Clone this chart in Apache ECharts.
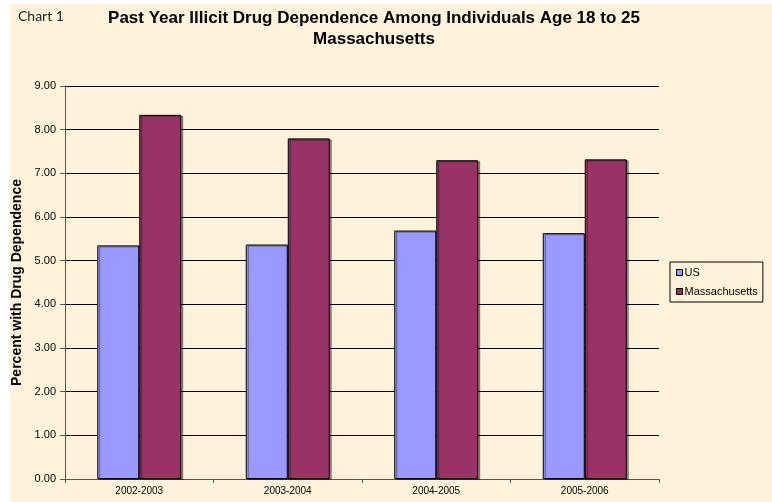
<!DOCTYPE html>
<html>
<head>
<meta charset="utf-8">
<script src="https://cdn.jsdelivr.net/npm/echarts@6/dist/echarts.min.js"></script>
<style>
	html, body { margin: 0; padding: 0; background: #fff; }
	#chart { width: 772px; height: 502px; }
</style>
</head>
<body>
<div id="chart"></div>
<script>
var periods = ['2002-2003', '2003-2004', '2004-2005', '2005-2006'];
var usData = [5.35, 5.37, 5.69, 5.63];
var maData = [8.34, 7.80, 7.30, 7.32];
var yTicks = [0, 9, 1];

var FONT = '"Liberation Sans", Arial, sans-serif';
var chart = echarts.init(document.getElementById('chart'));

function barStyle(color) {
	return {
		color: color,
		borderColor: '#000',
		borderWidth: 1,
		shadowColor: 'rgba(0,0,0,0.4)',
		shadowOffsetX: 2,
		shadowOffsetY: 1,
		shadowBlur: 0
	};
}

var option = {
	animation: false,
	backgroundColor: '#fff',
	textStyle: { fontFamily: FONT, color: '#000' },
	graphic: [
		{ type: 'rect', left: 10, top: 4, shape: { width: 762, height: 498 }, style: { fill: '#FFF2DA' }, z: -10 },
		{ type: 'text', left: 18, top: 9, style: { text: 'Chart 1', font: '14px Lato', fill: '#222' } }
	],
	title: {
		text: 'Past Year Illicit Drug Dependence Among Individuals Age 18 to 25\nMassachusetts',
		left: 369,
		top: 3,
		textAlign: 'center',
		textStyle: { fontFamily: FONT, fontWeight: 'bold', fontSize: 17, lineHeight: 21, color: '#000' }
	},
	legend: {
		orient: 'vertical',
		left: 670,
		top: 262,
		padding: [5, 5, 5, 6],
		itemGap: 8,
		itemWidth: 6,
		itemHeight: 6,
		icon: 'rect',
		borderColor: '#000',
		borderWidth: 1,
		itemStyle: { borderColor: '#000', borderWidth: 1, shadowBlur: 0, shadowOffsetX: 0, shadowOffsetY: 0 },
		textStyle: { fontFamily: FONT, fontSize: 11, color: '#000', padding: [0, 0, 0, -3] },
		data: ['US', 'Massachusetts']
	},
	grid: { left: 65, right: 113, top: 86, bottom: 23 },
	xAxis: {
		type: 'category',
		data: periods,
		axisLine: { lineStyle: { color: '#555', width: 1 } },
		axisTick: { show: true, length: 4, lineStyle: { color: '#555' } },
		axisLabel: { fontFamily: FONT, fontSize: 10, color: '#000', margin: 7 }
	},
	yAxis: {
		type: 'value',
		min: yTicks[0],
		max: yTicks[1],
		interval: yTicks[2],
		name: 'Percent with Drug Dependence',
		nameLocation: 'middle',
		nameRotate: 90,
		nameGap: 40,
		nameTextStyle: { fontFamily: FONT, fontWeight: 'bold', fontSize: 14, color: '#000' },
		axisLine: { show: true, lineStyle: { color: '#555', width: 1 } },
		axisTick: { show: true, length: 5, inside: false, lineStyle: { color: '#555' } },
		axisLabel: { fontFamily: FONT, fontSize: 11, color: '#000', margin: 9, formatter: function (v) { return v.toFixed(2); } },
		splitLine: { lineStyle: { color: '#000', width: 1 } }
	},
	series: [
		{
			name: 'US',
			type: 'bar',
			data: usData,
			barWidth: 42,
			barGap: '0%',
			itemStyle: barStyle('#9999FF')
		},
		{
			name: 'Massachusetts',
			type: 'bar',
			data: maData,
			barWidth: 42,
			barGap: '0%',
			itemStyle: barStyle('#993366')
		}
	]
};

chart.setOption(option);
</script>
</body>
</html>
